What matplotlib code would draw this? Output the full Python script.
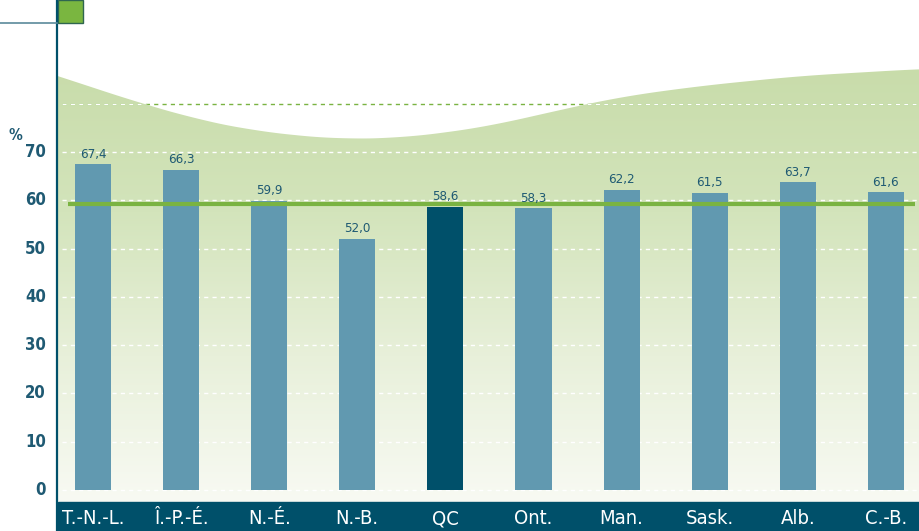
import matplotlib
matplotlib.use("Agg")
import matplotlib.pyplot as plt
import numpy as np
from matplotlib.colors import LinearSegmentedColormap
from matplotlib.patches import Polygon, Rectangle
from matplotlib.lines import Line2D

plt.rcParams['font.family'] = ['DejaVu Sans']
plt.rcParams['font.stretch'] = 'condensed'

# data
provinces = ['T.-N.-L.', 'Î.-P.-É.', 'N.-É.', 'N.-B.', 'QC', 'Ont.', 'Man.', 'Sask.', 'Alb.', 'C.-B.']
values = [67.4, 66.3, 59.9, 52.0, 58.6, 58.3, 62.2, 61.5, 63.7, 61.6]
canada = 59.3
yticks = [0, 10, 20, 30, 40, 50, 60, 70]

W, H = 920, 531
dark = '#00506a'
bar_col = '#6199b0'
green = '#7ab342'
txt_col = '#1f5a73'

fig = plt.figure(figsize=(W / 100, H / 100), dpi=100)
ax = fig.add_axes([58 / W, 0, 1 - 58 / W, 1])
ax.set_axis_off()

# pixel -> data mapping for this layout
x0px, step = 93, 88.1
y0px, unit = 490, 4.83
xmin, xmax = (58 - x0px) / step, (W - x0px) / step
ymin, ymax = (y0px - H) / unit, y0px / unit

# wavy green background (axes fraction coords), smoothed
wx = np.array([20, 58, 100, 140, 200, 250, 300, 340, 400, 450, 490, 560, 620, 700, 800, 920, 960])
wy = np.array([64, 76, 90, 103, 120, 130, 136, 139, 138, 132, 126, 110, 97, 86, 76, 69, 68])
sx = np.linspace(20, 960, 500)
sy = np.interp(sx, wx, wy)
k = 20
sy = np.convolve(np.r_[np.full(k, sy[0]), sy, np.full(k, sy[-1])], np.ones(2 * k + 1) / (2 * k + 1), mode='same')[k:-k]
fx = (sx - 58) / (W - 58)
fy = 1 - sy / H
band_top = 29 / H
poly = np.column_stack([np.r_[fx, fx[-1], fx[0]], np.r_[fy, band_top, band_top]])
clip = Polygon(poly, closed=True, transform=ax.transAxes, facecolor='none', edgecolor='none')
ax.add_patch(clip)

cmap = LinearSegmentedColormap.from_list('bg', ['#f8faf3', '#e8f0da', '#d3e4bb', '#c8dcaa'])
grad = np.linspace(0, 1, 256).reshape(-1, 1)
top_frac = 1 - 66 / H
im = ax.imshow(grad, cmap=cmap, origin='lower', aspect='auto',
               extent=[0, 1, band_top, top_frac], transform=ax.transAxes, zorder=0)
im.set_clip_path(clip)

# gridlines
gx0 = (62 - x0px) / step
ax.plot([gx0, xmax], [80, 80], color=green, lw=1, ls=(0, (3, 3)), zorder=1)
for v in yticks + [80]:
    ln, = ax.plot([gx0, xmax], [v, v], color='white', lw=1, ls=(0, (3, 3)), zorder=1)
    ln.set_clip_path(clip)

# bars
x = np.arange(len(provinces))
colors = [dark if p == 'QC' else bar_col for p in provinces]
ax.bar(x, values, width=0.41, color=colors, zorder=2)
for xi, v in zip(x, values):
    ax.text(xi, v + 1.4, f"{v:.1f}".replace('.', ','), ha='center', va='baseline',
            fontsize=9.5, color=txt_col, zorder=4)

# Canada average line
ax.plot([(68 - x0px) / step, (915 - x0px) / step], [canada, canada],
        color=green, lw=3, solid_capstyle='butt', zorder=3)

# bottom band with province labels
ax.axhspan(ymin, (y0px - 502) / unit, color=dark, zorder=2)
for xi, p in zip(x, provinces):
    ax.text(xi, (y0px - 519) / unit, p, ha='center', va='center',
            fontsize=14.5, color='white', zorder=4)

# y tick labels
for v in yticks:
    ax.text((46 - x0px) / step, v, str(v), ha='right', va='center',
            fontsize=12, fontweight='bold', color=txt_col, clip_on=False)
ax.text((22 - x0px) / step, (y0px - 135) / unit, '%', ha='right', va='center',
        fontsize=11, fontweight='bold', color=txt_col, clip_on=False)

ax.set_xlim(xmin, xmax)
ax.set_ylim(ymin, ymax)

# frame decorations: vertical rule, small horizontal rule, green square
fig.add_artist(Line2D([57.5 / W, 57.5 / W], [0, 1], color=dark, lw=1.6))
fig.add_artist(Line2D([0, 57 / W], [1 - 22.5 / H, 1 - 22.5 / H], color='#5b8a9b', lw=1.2))
fig.add_artist(Rectangle((58 / W, 1 - 23 / H), 25 / W, 23 / H, transform=fig.transFigure,
                         facecolor='#7ab640', edgecolor='#2f6650', lw=1))

fig.savefig('out.png', dpi=100)
